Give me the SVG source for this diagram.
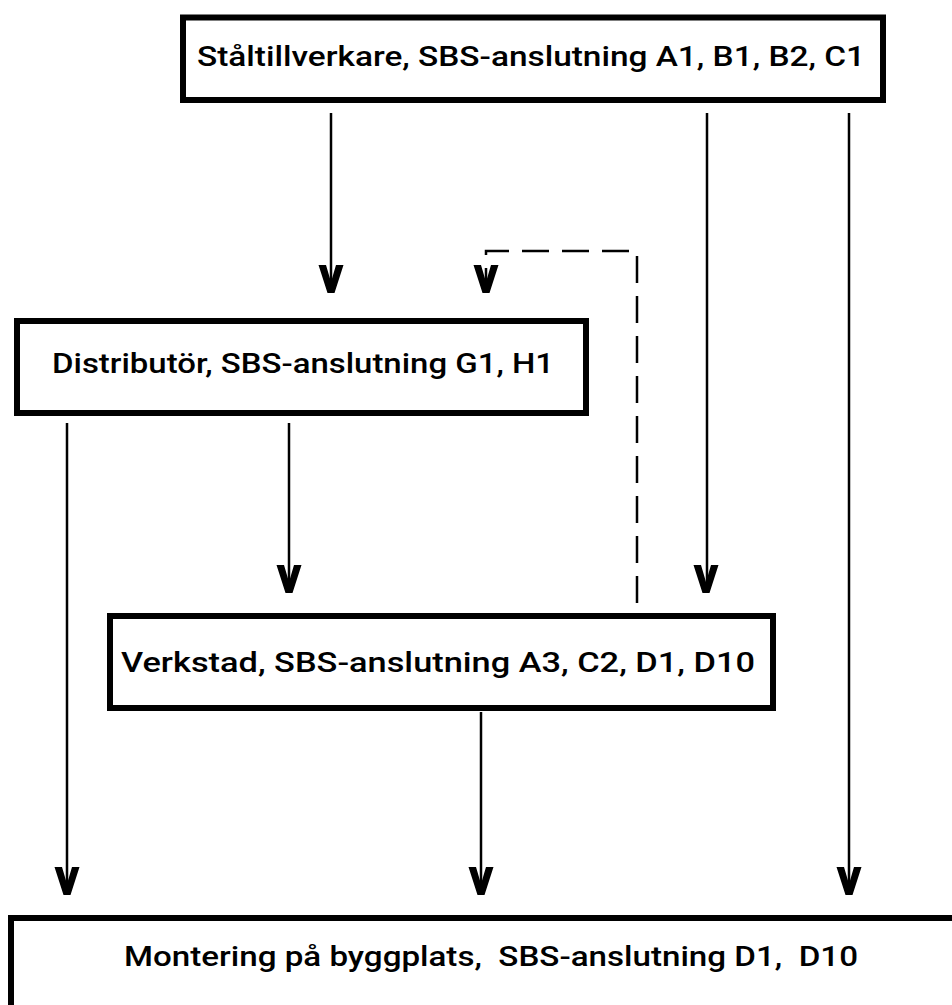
<svg xmlns="http://www.w3.org/2000/svg" xmlns:xlink="http://www.w3.org/1999/xlink" width="952" height="1005" viewBox="0 0 952 1005">
<style>
.box{fill:#fff;stroke:#000;stroke-width:6}
.lbl{font-family:Roboto,"Liberation Sans",sans-serif;font-weight:500;font-size:28px;fill:#000;white-space:pre}
.ln{fill:none;stroke:#000;stroke-width:2.5}
.dash{fill:none;stroke:#000;stroke-width:2.5;stroke-dasharray:27 13}
</style>
<defs>
<path id="vhead" d="M-12.5 0 L-5 0 L0 17 L5 0 L12.5 0 L3.5 28 L-3.5 28 Z" fill="#000"/>
</defs>
<rect width="952" height="1005" fill="#fff"/>
<g id="connectors">
<path class="ln" d="M331 113 V290"/>
<path class="ln" d="M707 113 V590"/>
<path class="ln" d="M849 113 V893"/>
<path class="ln" d="M67 423 V893"/>
<path class="ln" d="M289 423 V590"/>
<path class="ln" d="M481 712 V893"/>
<path class="dash" d="M637 603 V251 H486 V290"/>
<use href="#vhead" x="331" y="265"/>
<use href="#vhead" x="486" y="265"/>
<use href="#vhead" x="289" y="565"/>
<use href="#vhead" x="706" y="565"/>
<use href="#vhead" x="67" y="867"/>
<use href="#vhead" x="481" y="867"/>
<use href="#vhead" x="849" y="867"/>
</g>
<g id="staltillverkare">
<rect class="box" x="183" y="17.5" width="700" height="82.5"/>
<text class="lbl" x="197" y="66" textLength="668" lengthAdjust="spacingAndGlyphs">Ståltillverkare, SBS-anslutning A1, B1, B2, C1</text>
</g>
<g id="distributor">
<rect class="box" x="17" y="321" width="569" height="92"/>
<text class="lbl" x="52" y="373" textLength="502" lengthAdjust="spacingAndGlyphs">Distributör, SBS-anslutning G1, H1</text>
</g>
<g id="verkstad">
<rect class="box" x="110" y="616" width="663" height="92"/>
<text class="lbl" x="121" y="672" textLength="634" lengthAdjust="spacingAndGlyphs">Verkstad, SBS-anslutning A3, C2, D1, D10</text>
</g>
<g id="montering">
<rect class="box" x="11" y="918" width="960" height="110"/>
<text class="lbl" x="124" y="966" textLength="734" lengthAdjust="spacingAndGlyphs" xml:space="preserve">Montering på byggplats,  SBS-anslutning D1,  D10</text>
</g>
</svg>
